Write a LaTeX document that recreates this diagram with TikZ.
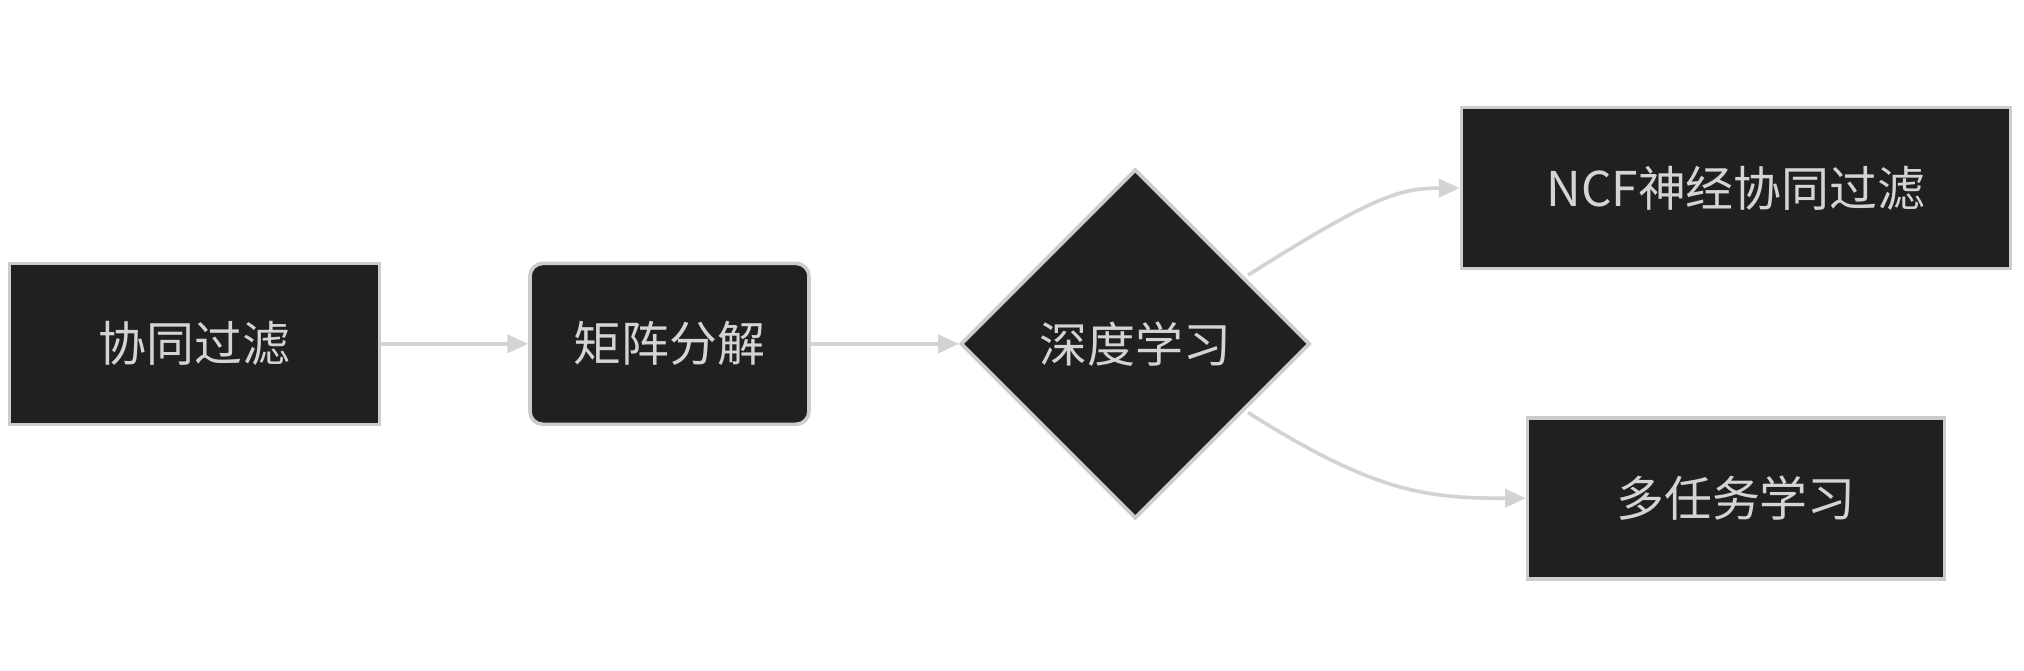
\documentclass[tikz,border=0pt]{standalone}
\usepackage{fontspec}
\setmainfont{Noto Sans CJK SC}
\usetikzlibrary{shapes.geometric,arrows.meta}
\definecolor{boxfill}{HTML}{1F2020}
\definecolor{boxline}{HTML}{CCCCCC}
\definecolor{txt}{HTML}{D4D4D4}
\definecolor{arr}{HTML}{D3D3D3}
\begin{document}
\begin{tikzpicture}[x=0.01cm,y=-0.01cm,
  box/.style={draw=boxline,line width=0.8pt,fill=boxfill,text=txt,font=\fontsize{10.5}{12}\selectfont,inner sep=0pt,minimum height=1.24cm},
  conn/.style={draw=arr,line width=0.8pt,-{Triangle[length=0.16cm,width=0.14cm]}}]
\useasboundingbox (0,0) rectangle (1560,517);
\node[box,minimum width=2.85cm] (a) at (150,265) {协同过滤};
\node[box,rounded corners=0.1cm,minimum width=2.15cm] (b) at (516,265) {矩阵分解};
\node[box,diamond,aspect=1,minimum width=2.69cm,minimum height=2.69cm] (c) at (875,265) {深度学习};
\node[box,minimum width=4.23cm] (d) at (1338,145) {NCF神经协同过滤};
\node[box,minimum width=3.21cm] (e) at (1338,384) {多任务学习};
\draw[conn] (a) -- (b);
\draw[conn] (b.east) -- (c.west);
\coordinate (c1) at (962,212);
\coordinate (c2) at (962,318);
\draw[conn] (c1) .. controls (1060,150) and (1080,145) .. (d.west);
\draw[conn] (c2) .. controls (1060,380) and (1100,384) .. (e.west);
\end{tikzpicture}
\end{document}
